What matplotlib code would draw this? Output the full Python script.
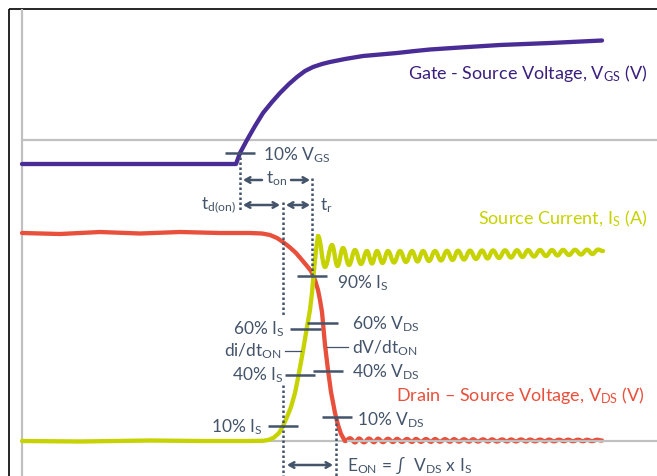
import matplotlib
matplotlib.use("Agg")
import matplotlib.pyplot as plt
from matplotlib.path import Path
from matplotlib.patches import PathPatch

plt.rcParams["font.family"] = ["Lato", "DejaVu Sans"]
plt.rcParams["mathtext.fontset"] = "custom"
plt.rcParams["mathtext.rm"] = "Lato"
plt.rcParams["mathtext.it"] = "Lato:italic"
plt.rcParams["mathtext.bf"] = "Lato:bold"

# ---- waveform samples (x = time axis, y = screen-down level) ----
gate_x = [22, 236, 240, 247, 255, 263, 272, 280, 289, 297, 305, 313, 322, 330,
          345, 363, 380, 397, 415, 430, 460, 500, 550, 602]
gate_y = [164, 164, 153, 140, 126, 113, 102, 93, 84, 77, 71, 67, 64, 62,
          59, 56, 54.5, 53, 51, 49.5, 47.5, 45, 43, 40.5]

drain_x = [22, 60, 100, 140, 180, 220, 250, 262, 270, 277, 283, 290, 296, 302, 307,
           311, 315, 318, 320, 322, 323, 325, 328, 331, 335, 338, 341, 345]
drain_y = [233, 234, 232, 233.5, 232, 233, 233, 233.5, 235, 238, 242, 247.5, 253, 260, 266,
           271, 280, 290, 300, 312, 323, 345, 370, 392, 413, 425, 434, 441]

# drain ripple after turn-on (alternating troughs / crests)
drain_ripple_x = [345, 350, 355, 359, 364, 369, 374, 378, 383, 388, 393, 397, 402, 407,
                  412, 416, 421, 426, 431, 435, 440, 445, 450, 454, 459, 464, 469, 473,
                  478, 483, 488, 492, 497, 502, 507, 511, 516, 521, 526, 530, 535, 540,
                  545, 549, 554, 559, 564, 568, 573, 578, 583, 587, 592, 597, 602]
drain_ripple_y = [441, 438.3, 442.4, 438.5, 442.3, 438.6, 442.2, 438.7, 442.1, 438.8,
                  442.0, 438.9, 441.9, 439.0, 441.9, 439.0, 441.8, 439.1, 441.8, 439.1,
                  441.7, 439.2, 441.7, 439.2, 441.6, 439.3, 441.6, 439.3, 441.5, 439.4,
                  441.5, 439.4, 441.5, 439.5, 441.4, 439.5, 441.4, 439.5, 441.4, 439.6,
                  441.3, 439.6, 441.3, 439.6, 441.3, 439.7, 441.2, 439.7, 441.2, 439.7,
                  441.2, 439.8, 441.1, 439.8, 440.5]

source_x = [22, 80, 150, 200, 250, 263, 269, 274, 279, 283, 287, 291, 295, 298, 301, 304,
            307, 310, 312, 314, 316, 318]
source_y = [441, 441.5, 440.5, 441, 441, 440.8, 439.8, 437.5, 433, 426, 417, 407, 393, 378,
            362, 345, 327, 310, 293, 270, 250, 236]

# current ringing after the peak (alternating troughs / crests)
ring_x = [318, 325, 332, 337.5, 343, 349, 355, 361, 367, 372, 377, 382.5, 388, 394,
          400, 406, 412, 417.5, 423, 429, 435, 441, 447, 452.5, 458, 464, 470, 476,
          482, 487.5, 493, 499, 505, 511, 517, 522.5, 528, 534, 540, 546, 552, 557.5,
          563, 569, 575, 581, 587, 592.5, 598, 603]
ring_y = [236, 267, 245, 266, 248, 265, 250, 264, 251, 263.5, 251, 263, 251, 262.5,
          251, 262, 251, 261.5, 251, 261, 251, 260.5, 250.8, 260, 250.7, 259.5,
          250.6, 259, 250.5, 258.5, 250.4, 258, 250.3, 257.5, 250.2, 257, 250.1, 256.5,
          250, 256, 250, 255.5, 249.9, 255, 249.8, 254.5, 249.7, 254, 249.6, 251]

# ---- colours ----
C_GATE = "#4A2C96"
C_GATE_TXT = "#3B1F7E"
C_DRAIN = "#E8503C"
C_SOURCE = "#C6D300"
C_NOTE = "#44546A"
C_GRID = "#C0C0C0"

W, H = 657, 476
fig = plt.figure(figsize=(W / 100, H / 100), dpi=100)
ax = fig.add_axes([0, 0, 1, 1])
ax.set_xlim(0, W)
ax.set_ylim(H, 0)
ax.axis("off")


def smooth_path(xs, ys):
    verts = [(xs[0], ys[0])]
    codes = [Path.MOVETO]
    for i in range(1, len(xs)):
        x0, y0, x1, y1 = xs[i - 1], ys[i - 1], xs[i], ys[i]
        d = (x1 - x0) * 0.4
        verts += [(x0 + d, y0), (x1 - d, y1), (x1, y1)]
        codes += [Path.CURVE4] * 3
    return Path(verts, codes)


# frame and reference lines
ax.plot([9, 9], [9, H], color="black", lw=1.2, solid_capstyle="butt")
ax.plot([9, W], [9, 9], color="black", lw=1.2, solid_capstyle="butt")
ax.plot([22, 22], [9, H], color=C_GRID, lw=1.6, solid_capstyle="butt")
ax.plot([22, W], [140, 140], color=C_GRID, lw=1.6, solid_capstyle="butt")
ax.plot([22, W], [441, 441], color=C_GRID, lw=1.6, solid_capstyle="butt")

LW = 3.1
# gate-source voltage
ax.plot(gate_x, gate_y, color=C_GATE, lw=LW, solid_capstyle="round", solid_joinstyle="round")
# drain-source voltage
ax.plot(drain_x, drain_y, color=C_DRAIN, lw=LW, solid_capstyle="round", solid_joinstyle="round")
ax.add_patch(PathPatch(smooth_path(drain_ripple_x, drain_ripple_y), fill=False,
                       edgecolor=C_DRAIN, lw=LW, capstyle="round", joinstyle="round"))
# source current
ax.plot(source_x, source_y, color=C_SOURCE, lw=LW, solid_capstyle="round", solid_joinstyle="round")
ax.add_patch(PathPatch(smooth_path(ring_x, ring_y), fill=False,
                       edgecolor=C_SOURCE, lw=LW, capstyle="round", joinstyle="round"))

# level markers
ticks = [((225, 255), 153), ((297, 327), 276), ((290, 321), 329), ((307, 338), 323),
         ((285, 315), 375), ((313, 343), 371), ((268, 298), 426), ((322, 352), 417)]
for (xa, xb), yy in ticks:
    ax.plot([xa, xb], [yy, yy], color=C_NOTE, lw=1.8, solid_capstyle="butt")
# slope leaders
ax.plot([285, 301], [351, 351], color=C_NOTE, lw=0.9)
ax.plot([327, 348], [347, 347], color=C_NOTE, lw=0.9)

# timing guides
dots = [(240, 157, 212), (283, 202, 317), (283, 385, H), (312, 178, 275), (336, 418, H)]
for xx, ya, yb in dots:
    ax.plot([xx, xx], [ya, yb], color=C_NOTE, lw=1.8, linestyle=(0, (1, 1)),
            solid_capstyle="butt", dash_capstyle="butt")

ARW = dict(color=C_NOTE, lw=1.8, shrinkA=0, shrinkB=0)
def arrow(x0, x1, y, style):
    ax.annotate("", xy=(x1, y), xytext=(x0, y),
                arrowprops=dict(arrowstyle=style + ",head_length=0.35,head_width=0.2", **ARW))

arrow(262, 243, 180, "->")
arrow(291, 310, 180, "->")
arrow(243, 280, 205, "<->")
arrow(286, 310, 205, "<->")
arrow(287, 333, 465, "<->")

FS = 12.5
def note(x, y, s, ha="left", color=C_NOTE, fs=FS):
    ax.text(x, y, s, ha=ha, va="center", color=color, fontsize=fs)

note(263, 155, r"10% $\mathregular{V_{GS}}$")
note(277, 179, r"$\mathregular{t_{on}}$", ha="center")
note(236, 206, r"$\mathregular{t_{d(on)}}$", ha="right")
note(320, 206, r"$\mathregular{t_{r}}$")
note(337, 283, r"90% $\mathregular{I_{S}}$")
note(285, 329, r"60% $\mathregular{I_{S}}$", ha="right")
note(352, 324, r"60% $\mathregular{V_{DS}}$")
note(282, 351, r"di/dt$\mathregular{_{ON}}$", ha="right")
note(352, 348, r"dV/dt$\mathregular{_{ON}}$")
note(284, 375, r"40% $\mathregular{I_{S}}$", ha="right")
note(352, 372, r"40% $\mathregular{V_{DS}}$")
note(263, 427, r"10% $\mathregular{I_{S}}$", ha="right")
note(357, 420, r"10% $\mathregular{V_{DS}}$")
note(347, 465, r"$\mathregular{E_{ON}}$ = ∫  $\mathregular{V_{DS}}$ x $\mathregular{I_{S}}$")

LFS = 13.0
note(647, 74, r"Gate - Source Voltage, $\mathregular{V_{GS}}$ (V)", ha="right", color=C_GATE_TXT, fs=LFS)
note(647, 219, r"Source Current, $\mathregular{I_{S}}$ (A)", ha="right", color=C_SOURCE, fs=LFS)
note(645, 395, r"Drain – Source Voltage, $\mathregular{V_{DS}}$ (V)", ha="right", color=C_DRAIN, fs=LFS)

fig.savefig("out.png", dpi=100, facecolor="white")
